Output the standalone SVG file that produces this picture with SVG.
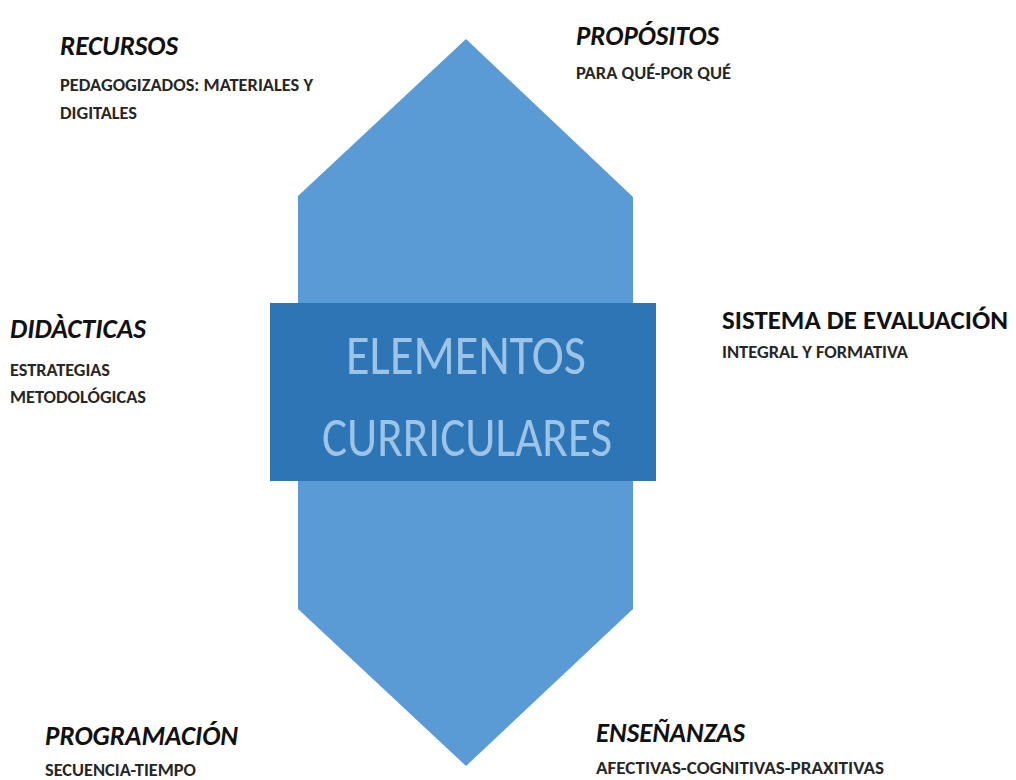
<svg xmlns="http://www.w3.org/2000/svg" width="1016" height="780" viewBox="0 0 1016 780">
<style>
text{font-family:Carlito,"Open Sans","Liberation Sans",sans-serif}
.t{font-weight:700;font-style:italic;font-size:28px;fill:#111}
.ts{font-weight:700;font-size:27px;fill:#111}
.s{font-weight:700;font-size:17px;fill:#262626}
.c{font-size:56px;fill:#9dc3e6;text-anchor:middle}
</style>
<rect width="1016" height="780" fill="#fff"/>
<g id="center">
<polygon points="466,39 633,197 633,609 466,766 298,609 298,196" fill="#5b9bd5"/>
<rect x="270" y="303" width="386" height="178" fill="#2e75b6"/>
<text class="c" x="466" y="374" textLength="240" lengthAdjust="spacingAndGlyphs">ELEMENTOS</text>
<text class="c" x="467" y="456" textLength="290" lengthAdjust="spacingAndGlyphs">CURRICULARES</text>
</g>
<g id="recursos">
<text class="t" x="60" y="55" textLength="118" lengthAdjust="spacingAndGlyphs">RECURSOS</text>
<text class="s" x="60" y="91" textLength="253" lengthAdjust="spacingAndGlyphs">PEDAGOGIZADOS: MATERIALES Y</text>
<text class="s" x="60" y="119" textLength="77" lengthAdjust="spacingAndGlyphs">DIGITALES</text>
</g>
<g id="propositos">
<text class="t" x="576" y="45" textLength="143" lengthAdjust="spacingAndGlyphs">PROPÓSITOS</text>
<text class="s" x="576" y="79" textLength="155" lengthAdjust="spacingAndGlyphs">PARA QUÉ-POR QUÉ</text>
</g>
<g id="didacticas">
<text class="t" x="10" y="338" textLength="136" lengthAdjust="spacingAndGlyphs">DIDÀCTICAS</text>
<text class="s" x="10" y="376" textLength="100" lengthAdjust="spacingAndGlyphs">ESTRATEGIAS</text>
<text class="s" x="10" y="403" textLength="136" lengthAdjust="spacingAndGlyphs">METODOLÓGICAS</text>
</g>
<g id="evaluacion">
<text class="ts" x="722" y="329" textLength="286" lengthAdjust="spacingAndGlyphs">SISTEMA DE EVALUACIÓN</text>
<text class="s" x="722" y="358" textLength="186" lengthAdjust="spacingAndGlyphs">INTEGRAL Y FORMATIVA</text>
</g>
<g id="programacion">
<text class="t" x="45" y="745" textLength="193" lengthAdjust="spacingAndGlyphs">PROGRAMACIÓN</text>
<text class="s" x="45" y="776" textLength="151" lengthAdjust="spacingAndGlyphs">SECUENCIA-TIEMPO</text>
</g>
<g id="ensenanzas">
<text class="t" x="596" y="742" textLength="149" lengthAdjust="spacingAndGlyphs">ENSEÑANZAS</text>
<text class="s" x="596" y="774" textLength="288" lengthAdjust="spacingAndGlyphs">AFECTIVAS-COGNITIVAS-PRAXITIVAS</text>
</g>
<g id="connectors"></g>
</svg>
